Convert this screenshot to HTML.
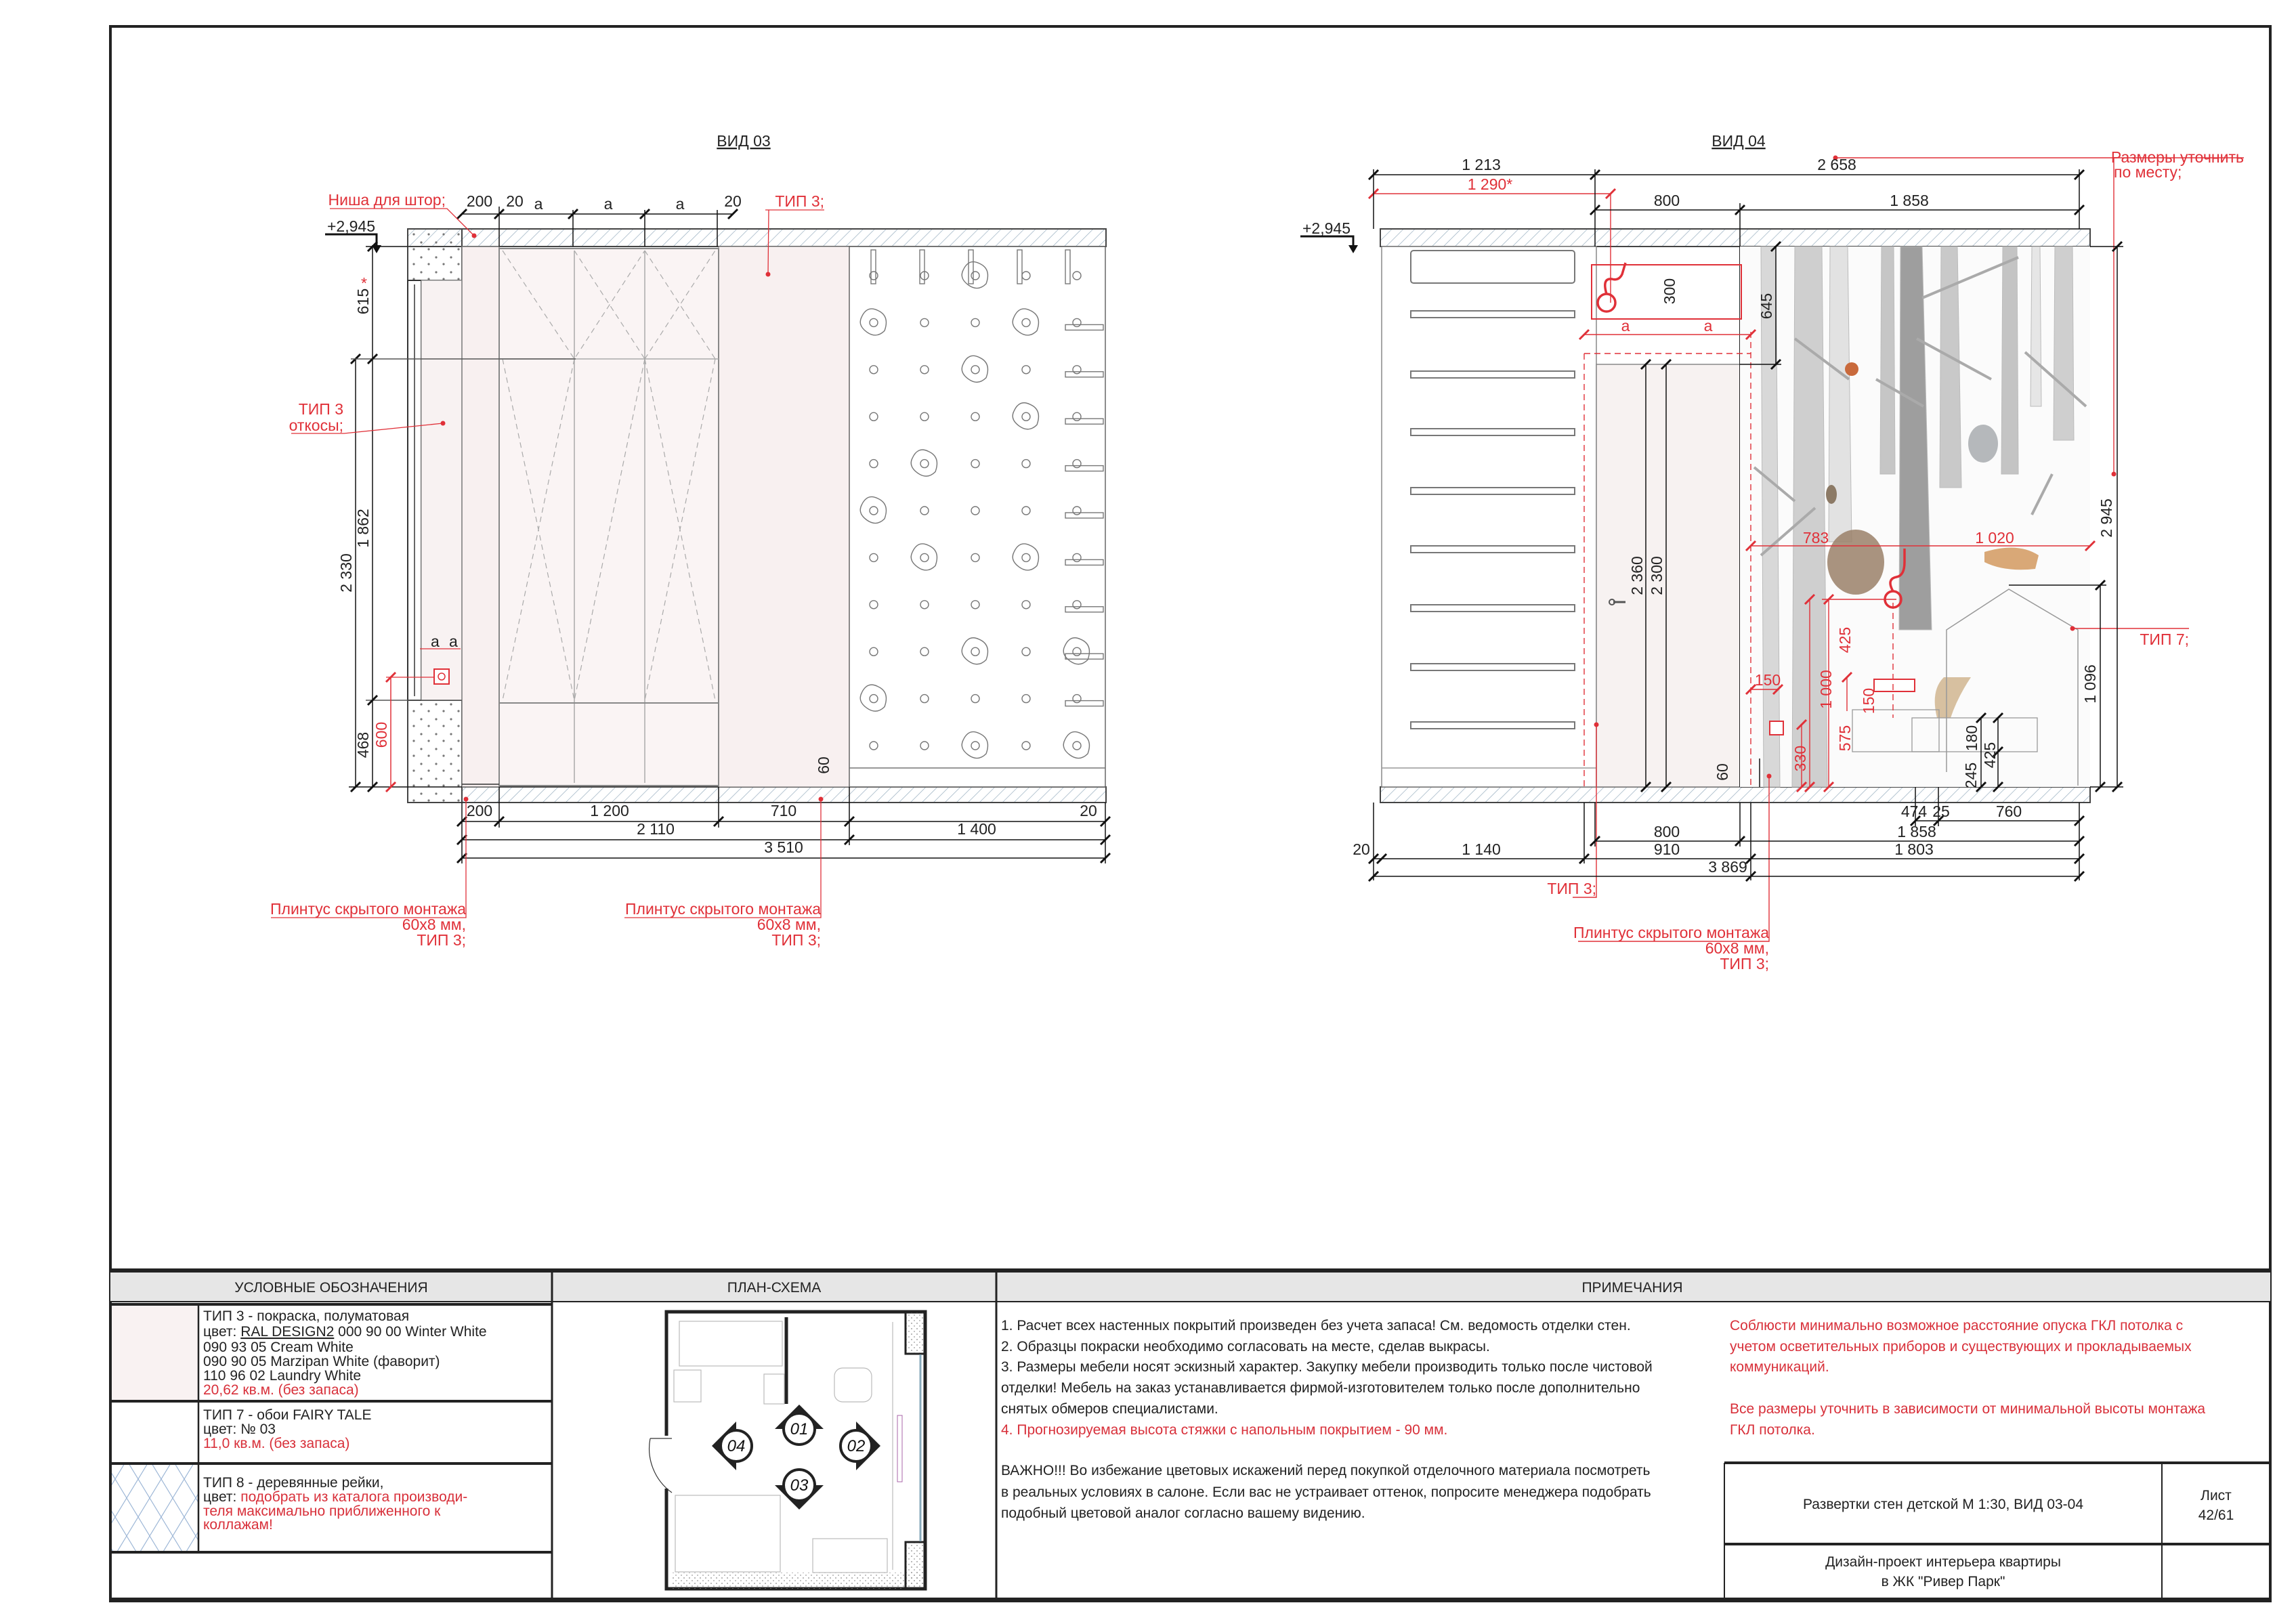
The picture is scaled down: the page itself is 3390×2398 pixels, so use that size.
<!DOCTYPE html>
<html><head><meta charset="utf-8"><style>
html,body{margin:0;padding:0;background:#fff}
svg{display:block}
text{font-family:"Liberation Sans Narrow","Liberation Sans",sans-serif}
.d{font-size:23px;fill:#222}
.r{font-size:23px;fill:#e03038}
.t{font-size:21px;fill:#222}
.tr{font-size:21px;fill:#d8303a}
</style></head><body>
<svg width="3390" height="2398" viewBox="0 0 3390 2398" xmlns="http://www.w3.org/2000/svg">
<defs>
<pattern id="h" width="12" height="12" patternUnits="userSpaceOnUse" patternTransform="rotate(45)"><line x1="0" y1="0" x2="0" y2="12" stroke="#9fb4c4" stroke-width="1.5"/></pattern>
<pattern id="dt" width="22" height="22" patternUnits="userSpaceOnUse"><circle cx="6" cy="6" r="1.6" fill="#777"/><circle cx="17" cy="16" r="1.6" fill="#777"/></pattern>
<pattern id="dt2" width="8" height="8" patternUnits="userSpaceOnUse"><circle cx="2" cy="2" r="0.9" fill="#888"/><circle cx="6" cy="6" r="0.9" fill="#999"/></pattern>
<pattern id="lat" width="34" height="56" patternUnits="userSpaceOnUse"><path d="M0 0 L17 28 L0 56 M34 0 L17 28 L34 56" stroke="#9cb6d6" stroke-width="1.2" fill="none"/></pattern>
<marker id="tk" viewBox="-10 -10 20 20" markerWidth="20" markerHeight="20" markerUnits="userSpaceOnUse" orient="0"><line x1="-7" y1="7" x2="7" y2="-7" stroke="#111" stroke-width="3"/></marker>
<marker id="tkr" viewBox="-10 -10 20 20" markerWidth="20" markerHeight="20" markerUnits="userSpaceOnUse" orient="0"><line x1="-7" y1="7" x2="7" y2="-7" stroke="#e03038" stroke-width="3"/></marker>
</defs>

<!-- frame -->
<rect x="163" y="39" width="3189" height="2325" fill="none" stroke="#222" stroke-width="4"/>

<!-- ================= VIEW 03 ================= -->
<text x="1098" y="216" class="d" text-anchor="middle" text-decoration="underline">ВИД 03</text>
<rect x="602" y="338" width="1031" height="26" fill="url(#h)" stroke="#444" stroke-width="2"/>
<rect x="682" y="1162" width="951" height="23" fill="url(#h)" stroke="#444" stroke-width="2"/>
<rect x="602" y="338" width="80" height="76" fill="url(#dt)" stroke="#444" stroke-width="2"/>
<rect x="602" y="1034" width="80" height="151" fill="url(#dt)" stroke="#444" stroke-width="2"/>
<rect x="602" y="414" width="20" height="620" fill="#fff" stroke="#333" stroke-width="2"/>
<line x1="612" y1="420" x2="612" y2="1028" stroke="#333" stroke-width="1.5"/>
<rect x="622" y="414" width="60" height="620" fill="#f8f2f2" stroke="#999" stroke-width="1"/>
<rect x="682" y="364" width="55" height="798" fill="#f8f0f0" stroke="#777" stroke-width="1.5"/>
<rect x="1061" y="364" width="193" height="798" fill="#f8f0f0" stroke="#777" stroke-width="1"/>
<rect x="737" y="367" width="324" height="793" fill="#faf4f4" stroke="#888" stroke-width="2"/>
<line x1="848" y1="370" x2="848" y2="1156" stroke="#aaa" stroke-width="1.5"/>
<line x1="952" y1="370" x2="952" y2="1156" stroke="#aaa" stroke-width="1.5"/>
<line x1="737" y1="530" x2="1061" y2="530" stroke="#aaa" stroke-width="1.5"/>
<line x1="737" y1="1038" x2="1061" y2="1038" stroke="#888" stroke-width="2"/>
<g stroke="#aaa" stroke-width="1.2" stroke-dasharray="8 6" fill="none">
<path d="M742 370 L848 530 L952 370 M848 370 L952 530 M952 370 L1056 530 M952 530 L1056 370"/>
<path d="M742 530 L848 1034 L952 530 M848 530 L742 1034 M952 530 L848 1034 M952 530 L1056 1034 M1056 530 L952 1034"/>
</g>
<line x1="682" y1="1158" x2="737" y2="1158" stroke="#333" stroke-width="1.5"/>
<rect x="1254" y="364" width="378" height="798" fill="#fff" stroke="#666" stroke-width="1.5"/>
<line x1="1254" y1="1134" x2="1632" y2="1134" stroke="#777" stroke-width="1.5"/>
<g id="holds" fill="none" stroke="#777" stroke-width="1.4"></g>
<g stroke="#111" stroke-width="1.5" fill="none">
<line x1="682" y1="1213" x2="1632" y2="1213" marker-start="url(#tk)" marker-end="url(#tk)"/>
<line x1="682" y1="1240" x2="1632" y2="1240" marker-start="url(#tk)" marker-end="url(#tk)"/>
<line x1="682" y1="1267" x2="1632" y2="1267" marker-start="url(#tk)" marker-end="url(#tk)"/>
<line x1="682" y1="1185" x2="682" y2="1275"/><line x1="1632" y1="1185" x2="1632" y2="1275"/>
<line x1="737" y1="1162" x2="737" y2="1222"/><line x1="1061" y1="1162" x2="1061" y2="1222"/><line x1="1254" y1="1162" x2="1254" y2="1248"/>
<line x1="682" y1="316" x2="1082" y2="316" marker-start="url(#tk)" marker-end="url(#tk)"/>
<line x1="737" y1="305" x2="737" y2="364"/><line x1="846" y1="310" x2="846" y2="364"/><line x1="952" y1="310" x2="952" y2="364"/><line x1="1059" y1="310" x2="1059" y2="364"/>
<line x1="525" y1="530" x2="525" y2="1162" marker-start="url(#tk)" marker-end="url(#tk)"/>
<line x1="550" y1="364" x2="550" y2="1162" marker-start="url(#tk)" marker-end="url(#tk)"/>
<line x1="518" y1="530" x2="850" y2="530" stroke="#555"/><line x1="540" y1="1034" x2="682" y2="1034" stroke="#555"/>
<line x1="515" y1="1162" x2="682" y2="1162"/>
<line x1="540" y1="364" x2="602" y2="364"/>
</g>
<g marker-start="url(#tk)"><line x1="550" y1="530" x2="550" y2="531" stroke="#111"/><line x1="550" y1="1034" x2="550" y2="1035" stroke="#111"/><line x1="737" y1="1213" x2="738" y2="1213" stroke="#111"/><line x1="1061" y1="1213" x2="1062" y2="1213" stroke="#111"/><line x1="1254" y1="1240" x2="1255" y2="1240" stroke="#111"/><line x1="1254" y1="1213" x2="1255" y2="1213" stroke="#111"/><line x1="737" y1="316" x2="738" y2="316" stroke="#111"/><line x1="846" y1="316" x2="847" y2="316" stroke="#111"/><line x1="952" y1="316" x2="953" y2="316" stroke="#111"/></g>
<line x1="577" y1="1000" x2="577" y2="1162" stroke="#e03038" stroke-width="1.5" marker-start="url(#tkr)" marker-end="url(#tkr)"/>
<line x1="570" y1="1000" x2="650" y2="1000" stroke="#e03038" stroke-width="1.2"/>
<line x1="620" y1="958" x2="680" y2="958" stroke="#e03038" stroke-width="1.2"/>
<rect x="641" y="988" width="22" height="22" fill="#fff" stroke="#e03038" stroke-width="2"/><circle cx="652" cy="999" r="5" fill="none" stroke="#e03038" stroke-width="1.5"/>
<text x="708" y="305" class="d" text-anchor="middle">200</text><text x="760" y="305" class="d" text-anchor="middle">20</text>
<text x="795" y="309" class="d" text-anchor="middle">a</text><text x="898" y="309" class="d" text-anchor="middle">a</text><text x="1004" y="309" class="d" text-anchor="middle">a</text><text x="1082" y="305" class="d" text-anchor="middle">20</text>
<text x="636" y="955" class="d" font-size="20">a</text><text x="663" y="955" class="d" font-size="20">a</text>
<text x="708" y="1205" class="d" text-anchor="middle">200</text><text x="900" y="1205" class="d" text-anchor="middle">1 200</text><text x="1157" y="1205" class="d" text-anchor="middle">710</text><text x="1607" y="1205" class="d" text-anchor="middle">20</text>
<text x="968" y="1232" class="d" text-anchor="middle">2 110</text><text x="1442" y="1232" class="d" text-anchor="middle">1 400</text>
<text x="1157" y="1259" class="d" text-anchor="middle">3 510</text>
<text class="d" transform="translate(544,445) rotate(-90)" text-anchor="middle">615</text>
<text x="533" y="426" class="r" font-size="18">*</text>
<text class="d" transform="translate(544,780) rotate(-90)" text-anchor="middle">1 862</text>
<text class="d" transform="translate(519,846) rotate(-90)" text-anchor="middle">2 330</text>
<text class="d" transform="translate(544,1100) rotate(-90)" text-anchor="middle">468</text>
<text class="r" transform="translate(571,1085) rotate(-90)" text-anchor="middle">600</text>
<text class="d" transform="translate(1224,1130) rotate(-90)" text-anchor="middle">60</text>
<text x="483" y="342" class="d">+2,945</text>
<path d="M480 346 L556 346 L556 370" stroke="#111" stroke-width="3" fill="none"/><path d="M549 362 L556 374 L563 362 Z" fill="#111"/>
<g stroke="#e03038" stroke-width="1.3" fill="none">
<path d="M487 308 L660 308 L700 348"/><path d="M1130 310 L1217 310 M1135 310 L1134 405"/>
<path d="M430 640 L508 640 L654 625"/>
<path d="M400 1355 L688 1355 L688 1182"/><path d="M922 1355 L1212 1355 L1212 1182"/>
</g>
<g fill="#e03038"><circle cx="700" cy="348" r="3.5"/><circle cx="1134" cy="405" r="3.5"/><circle cx="654" cy="625" r="3.5"/><circle cx="688" cy="1180" r="3.5"/><circle cx="1212" cy="1180" r="3.5"/></g>
<text x="658" y="303" class="r" text-anchor="end">Ниша для штор;</text>
<text x="1217" y="305" class="r" text-anchor="end">ТИП 3;</text>
<text x="507" y="612" class="r" text-anchor="end">ТИП 3</text><text x="507" y="636" class="r" text-anchor="end">откосы;</text>
<text x="688" y="1350" class="r" text-anchor="end">Плинтус скрытого монтажа</text><text x="688" y="1373" class="r" text-anchor="end">60x8 мм,</text><text x="688" y="1396" class="r" text-anchor="end">ТИП 3;</text>
<text x="1212" y="1350" class="r" text-anchor="end">Плинтус скрытого монтажа</text><text x="1212" y="1373" class="r" text-anchor="end">60x8 мм,</text><text x="1212" y="1396" class="r" text-anchor="end">ТИП 3;</text>

<!-- ================= VIEW 04 ================= -->
<text x="2567" y="216" class="d" text-anchor="middle" text-decoration="underline">ВИД 04</text>
<rect x="2038" y="338" width="1048" height="26" fill="url(#h)" stroke="#444" stroke-width="2"/>
<rect x="2038" y="1162" width="1048" height="23" fill="url(#h)" stroke="#444" stroke-width="2"/>
<rect x="2040" y="364" width="317" height="798" fill="#fff" stroke="#888" stroke-width="1.5"/>
<rect x="2083" y="370" width="242" height="48" rx="4" fill="#fff" stroke="#777" stroke-width="2"/>
<line x1="2040" y1="1134" x2="2357" y2="1134" stroke="#999" stroke-width="1.5"/>
<g id="bars" fill="#fff" stroke="#777" stroke-width="2"></g>
<rect x="2357" y="538" width="212" height="624" fill="#f7f2f1" stroke="#888" stroke-width="1.5"/>
<line x1="2382" y1="889" x2="2400" y2="889" stroke="#555" stroke-width="3"/><circle cx="2380" cy="889" r="4" fill="none" stroke="#555" stroke-width="2"/>
<line x1="2569" y1="364" x2="2569" y2="1162" stroke="#222" stroke-width="2"/>
<rect x="2569" y="364" width="517" height="798" fill="#fbfbfb"/>
<g fill="#d8d8d8" stroke="#bbb" stroke-width="1">
<polygon points="2600,364 2622,364 2628,1162 2604,1162"/>
<polygon points="2650,364 2690,364 2698,1162 2646,1162" fill="#cfcfcf"/>
<polygon points="2702,364 2728,364 2734,800 2700,800" fill="#e2e2e2"/>
<polygon points="2778,364 2796,364 2798,700 2776,700" fill="#c6c6c6"/>
<polygon points="2806,364 2838,364 2852,930 2804,930" fill="#9e9e9e"/>
<polygon points="2866,364 2890,364 2896,720 2864,720" fill="#c9c9c9"/>
<polygon points="2957,364 2978,364 2980,700 2955,700" fill="#c4c4c4"/>
<polygon points="3034,364 3060,364 3062,650 3032,650" fill="#cfcfcf"/>
<polygon points="3000,364 3012,364 3014,600 2998,600" fill="#e6e6e6"/>
</g>
<g stroke="#aaa" stroke-width="4" fill="none">
<path d="M2838 440 L2980 380 M2830 500 L2940 560 M2840 600 L2770 560 M2730 560 L2650 500 M2680 750 L2600 820 M2650 740 L2590 690 M2990 520 L3080 600 M3030 700 L3000 760"/>
</g>
<ellipse cx="2740" cy="830" rx="42" ry="48" fill="#9a8068" opacity="0.85"/>
<path d="M2930 815 Q2980 800 3010 820 L3005 840 Q2960 845 2930 830 Z" fill="#d9a877"/>
<path d="M2870 1000 Q2850 1020 2860 1060 L2880 1060 Q2890 1030 2910 1000 Z" fill="#d7c0a0"/>
<ellipse cx="2928" cy="655" rx="22" ry="28" fill="#b5b8bb"/>
<ellipse cx="2734" cy="545" rx="10" ry="10" fill="#c96a3c"/>
<ellipse cx="2704" cy="730" rx="8" ry="14" fill="#8c7a66"/>
<path d="M2874 1140 L2874 930 L2966 870 L3068 930 L3068 1160" fill="none" stroke="#999" stroke-width="1.5"/>
<rect x="2823" y="1060" width="185" height="50" fill="none" stroke="#999" stroke-width="1.3"/>
<rect x="2735" y="1048" width="128" height="62" fill="none" stroke="#999" stroke-width="1.3"/>
<rect x="2350" y="391" width="221" height="80" fill="none" stroke="#e03038" stroke-width="2"/>
<circle cx="2372" cy="447" r="13" fill="none" stroke="#e03038" stroke-width="3.5"/>
<path d="M2372 434 Q2365 410 2380 412 Q2390 415 2395 405 L2400 388" stroke="#e03038" stroke-width="3.5" fill="none"/>
<circle cx="2795" cy="885" r="12" fill="none" stroke="#e03038" stroke-width="3.5"/>
<path d="M2795 873 Q2785 855 2800 852 Q2812 850 2812 830 L2812 810" stroke="#e03038" stroke-width="3.5" fill="none"/>
<rect x="2767" y="1003" width="60" height="18" fill="#fff" stroke="#e03038" stroke-width="2"/>
<rect x="2613" y="1065" width="20" height="20" fill="#fff" stroke="#e03038" stroke-width="2"/>
<g stroke="#e03038" stroke-width="1.4" fill="none" stroke-dasharray="9 6">
<line x1="2339" y1="522" x2="2585" y2="522"/><line x1="2339" y1="522" x2="2339" y2="1162"/><line x1="2585" y1="490" x2="2585" y2="1162"/><line x1="2795" y1="890" x2="2795" y2="1060"/>
</g>
<g stroke="#e03038" stroke-width="1.4" fill="none">
<line x1="2028" y1="286" x2="2378" y2="286" marker-start="url(#tkr)" marker-end="url(#tkr)"/><line x1="2378" y1="286" x2="2378" y2="447"/>
<line x1="2339" y1="494" x2="2585" y2="494" marker-start="url(#tkr)" marker-end="url(#tkr)"/>
<line x1="2585" y1="806" x2="3086" y2="806" marker-start="url(#tkr)" marker-end="url(#tkr)"/>
<line x1="2690" y1="885" x2="2800" y2="885"/>
<line x1="2672" y1="885" x2="2672" y2="1162" marker-start="url(#tkr)" marker-end="url(#tkr)"/>
<line x1="2700" y1="885" x2="2700" y2="1162" marker-start="url(#tkr)" marker-end="url(#tkr)"/>
<line x1="2585" y1="1018" x2="2625" y2="1018" marker-start="url(#tkr)" marker-end="url(#tkr)"/>
<line x1="2660" y1="1070" x2="2660" y2="1162" marker-start="url(#tkr)" marker-end="url(#tkr)"/>
<line x1="2727" y1="1000" x2="2727" y2="1050" marker-start="url(#tkr)"/>
<path d="M2710 233 L3313 233 M3121 233 L3121 700"/>
<path d="M3060 928 L3163 928 L3232 928"/>
<path d="M2322 1325 L2357 1325 L2357 1070"/>
<path d="M2330 1390 L2612 1390 L2612 1146"/>
</g>
<g fill="#e03038"><circle cx="2710" cy="233" r="3.5"/><circle cx="3121" cy="700" r="3.5"/><circle cx="3060" cy="928" r="3.5"/><circle cx="2357" cy="1070" r="3.5"/><circle cx="2612" cy="1146" r="3.5"/></g>
<text x="2200" y="280" class="r" text-anchor="middle">1 290*</text>
<text x="2400" y="489" class="r" font-size="20" text-anchor="middle">a</text><text x="2522" y="489" class="r" font-size="20" text-anchor="middle">a</text>
<text x="2681" y="802" class="r" text-anchor="middle">783</text><text x="2945" y="802" class="r" text-anchor="middle">1 020</text>
<text x="2610" y="1012" class="r" text-anchor="middle">150</text>
<text class="r" transform="translate(2732,945) rotate(-90)" text-anchor="middle">425</text>
<text class="r" transform="translate(2704,1018) rotate(-90)" text-anchor="middle">1 000</text>
<text class="r" transform="translate(2732,1090) rotate(-90)" text-anchor="middle">575</text>
<text class="r" transform="translate(2767,1035) rotate(-90)" text-anchor="middle">150</text>
<text class="r" transform="translate(2666,1120) rotate(-90)" text-anchor="middle">330</text>
<text x="3313" y="240" class="r" text-anchor="end">Размеры уточнить</text><text x="3121" y="262" class="r">по месту;</text>
<text x="3232" y="952" class="r" text-anchor="end">ТИП 7;</text>
<text x="2357" y="1320" class="r" text-anchor="end">ТИП 3;</text>
<text x="2612" y="1385" class="r" text-anchor="end">Плинтус скрытого монтажа</text><text x="2612" y="1408" class="r" text-anchor="end">60x8 мм,</text><text x="2612" y="1431" class="r" text-anchor="end">ТИП 3;</text>
<g stroke="#111" stroke-width="1.5" fill="none">
<line x1="2028" y1="258" x2="3070" y2="258" marker-start="url(#tk)" marker-end="url(#tk)"/>
<line x1="2355" y1="310" x2="3070" y2="310" marker-start="url(#tk)" marker-end="url(#tk)"/>
<line x1="2028" y1="250" x2="2028" y2="338"/><line x1="2355" y1="250" x2="2355" y2="364"/><line x1="2569" y1="300" x2="2569" y2="364"/><line x1="3070" y1="250" x2="3070" y2="338"/>
<line x1="2622" y1="364" x2="2622" y2="538" marker-start="url(#tk)" marker-end="url(#tk)"/><line x1="2569" y1="538" x2="2630" y2="538"/>
<line x1="2430" y1="538" x2="2430" y2="1162" marker-start="url(#tk)" marker-end="url(#tk)"/>
<line x1="2460" y1="538" x2="2460" y2="1162" marker-start="url(#tk)" marker-end="url(#tk)"/>
<line x1="3126" y1="364" x2="3126" y2="1162" marker-start="url(#tk)" marker-end="url(#tk)"/><line x1="3086" y1="364" x2="3135" y2="364"/><line x1="3086" y1="1162" x2="3135" y2="1162"/>
<line x1="3101" y1="864" x2="3101" y2="1162" marker-start="url(#tk)" marker-end="url(#tk)"/><line x1="2966" y1="864" x2="3110" y2="864"/>
<line x1="2950" y1="1060" x2="2950" y2="1162" marker-start="url(#tk)" marker-end="url(#tk)"/>
<line x1="2925" y1="1060" x2="2925" y2="1162" marker-start="url(#tk)" marker-end="url(#tk)"/>
<line x1="2828" y1="1212" x2="3070" y2="1212" marker-start="url(#tk)" marker-end="url(#tk)"/>
<line x1="2355" y1="1242" x2="3070" y2="1242" marker-start="url(#tk)" marker-end="url(#tk)"/>
<line x1="2028" y1="1268" x2="3070" y2="1268" marker-start="url(#tk)" marker-end="url(#tk)"/>
<line x1="2028" y1="1294" x2="3070" y2="1294" marker-start="url(#tk)" marker-end="url(#tk)"/>
<line x1="2028" y1="1185" x2="2028" y2="1300"/><line x1="3070" y1="1185" x2="3070" y2="1300"/><line x1="2339" y1="1185" x2="2339" y2="1275"/><line x1="2355" y1="1185" x2="2355" y2="1250"/><line x1="2569" y1="1185" x2="2569" y2="1250"/><line x1="2585" y1="1185" x2="2585" y2="1300"/><line x1="2828" y1="1162" x2="2828" y2="1220"/><line x1="2862" y1="1162" x2="2862" y2="1220"/>
<line x1="2598" y1="1162" x2="2598" y2="1120"/>
</g>
<g marker-start="url(#tk)" stroke="#111"><line x1="2355" y1="258" x2="2356" y2="258"/><line x1="2569" y1="310" x2="2570" y2="310"/><line x1="2339" y1="1268" x2="2340" y2="1268"/><line x1="2569" y1="1242" x2="2570" y2="1242"/><line x1="2585" y1="1268" x2="2586" y2="1268"/><line x1="2585" y1="1294" x2="2586" y2="1294"/><line x1="2862" y1="1212" x2="2863" y2="1212"/><line x1="2040" y1="1268" x2="2041" y2="1268"/><line x1="2950" y1="1110" x2="2951" y2="1110"/></g>
<text x="2187" y="251" class="d" text-anchor="middle">1 213</text><text x="2712" y="251" class="d" text-anchor="middle">2 658</text>
<text x="2461" y="304" class="d" text-anchor="middle">800</text><text x="2819" y="304" class="d" text-anchor="middle">1 858</text>
<text x="2826" y="1206" class="d" text-anchor="middle">474</text><text x="2866" y="1206" class="d" text-anchor="middle">25</text><text x="2966" y="1206" class="d" text-anchor="middle">760</text>
<text x="2461" y="1236" class="d" text-anchor="middle">800</text><text x="2830" y="1236" class="d" text-anchor="middle">1 858</text>
<text x="2010" y="1262" class="d" text-anchor="middle">20</text><text x="2187" y="1262" class="d" text-anchor="middle">1 140</text><text x="2461" y="1262" class="d" text-anchor="middle">910</text><text x="2826" y="1262" class="d" text-anchor="middle">1 803</text>
<text x="2551" y="1288" class="d" text-anchor="middle">3 869</text>
<text class="d" transform="translate(2616,452) rotate(-90)" text-anchor="middle">645</text>
<text class="d" transform="translate(2425,850) rotate(-90)" text-anchor="middle">2 360</text>
<text class="d" transform="translate(2454,850) rotate(-90)" text-anchor="middle">2 300</text>
<text class="d" transform="translate(2473,430) rotate(-90)" text-anchor="middle">300</text>
<text class="d" transform="translate(3118,765) rotate(-90)" text-anchor="middle">2 945</text>
<text class="d" transform="translate(3094,1010) rotate(-90)" text-anchor="middle">1 096</text>
<text class="d" transform="translate(2919,1090) rotate(-90)" text-anchor="middle">180</text>
<text class="d" transform="translate(2918,1145) rotate(-90)" text-anchor="middle">245</text>
<text class="d" transform="translate(2946,1115) rotate(-90)" text-anchor="middle">425</text>
<text class="d" transform="translate(2551,1140) rotate(-90)" text-anchor="middle">60</text>
<text x="1923" y="345" class="d">+2,945</text>
<path d="M1920 349 L1998 349 L1998 370" stroke="#111" stroke-width="3" fill="none"/><path d="M1991 362 L1998 374 L2005 362 Z" fill="#111"/>

<!-- ================= BOTTOM TABLE ================= -->
<rect x="163" y="1878" width="3189" height="44" fill="#e6e6e6"/>
<line x1="163" y1="1876" x2="3352" y2="1876" stroke="#222" stroke-width="6"/>
<line x1="163" y1="1922" x2="3352" y2="1922" stroke="#222" stroke-width="2"/>
<line x1="815" y1="1876" x2="815" y2="2364" stroke="#222" stroke-width="3"/>
<line x1="1471" y1="1876" x2="1471" y2="2364" stroke="#222" stroke-width="3"/>
<line x1="163" y1="2362" x2="3352" y2="2362" stroke="#222" stroke-width="6"/>
<text x="489" y="1908" class="t" text-anchor="middle">УСЛОВНЫЕ ОБОЗНАЧЕНИЯ</text>
<text x="1143" y="1908" class="t" text-anchor="middle">ПЛАН-СХЕМА</text>
<text x="2410" y="1908" class="t" text-anchor="middle">ПРИМЕЧАНИЯ</text>
<rect x="165" y="1927" width="127" height="142" fill="#f9f2f2"/>
<rect x="165" y="2163" width="127" height="128" fill="url(#lat)"/>
<g stroke="#222" stroke-width="4"><line x1="163" y1="1926" x2="815" y2="1926"/><line x1="163" y1="2069" x2="815" y2="2069"/><line x1="163" y1="2161" x2="815" y2="2161"/><line x1="163" y1="2292" x2="815" y2="2292"/></g>
<line x1="293" y1="1926" x2="293" y2="2292" stroke="#222" stroke-width="2.5"/>
<text x="300" y="1950" class="t">ТИП 3 - покраска, полуматовая</text>
<text x="300" y="1973" class="t">цвет: <tspan text-decoration="underline">RAL DESIGN2</tspan> 000 90 00 Winter White</text>
<text x="300" y="1996" class="t">090 93 05 Cream White</text>
<text x="300" y="2017" class="t">090 90 05 Marzipan White (фаворит)</text>
<text x="300" y="2038" class="t">110 96 02 Laundry White</text>
<text x="300" y="2059" class="tr">20,62 кв.м. (без запаса)</text>
<text x="300" y="2096" class="t">ТИП 7 - обои FAIRY TALE</text>
<text x="300" y="2117" class="t">цвет: № 03</text>
<text x="300" y="2138" class="tr">11,0 кв.м. (без запаса)</text>
<text x="300" y="2196" class="t">ТИП 8 - деревянные рейки,</text>
<text x="300" y="2217" class="t">цвет: <tspan fill="#d8303a">подобрать из каталога производи-</tspan></text>
<text x="300" y="2238" class="tr">теля максимально приближенного к</text>
<text x="300" y="2258" class="tr">коллажам!</text>
<rect x="984" y="1937" width="382" height="409" fill="none" stroke="#222" stroke-width="5"/>
<rect x="992" y="2322" width="374" height="24" fill="url(#dt2)"/>
<rect x="1337" y="1937" width="29" height="62" fill="url(#dt2)" stroke="#222" stroke-width="3"/>
<rect x="1337" y="2277" width="29" height="69" fill="url(#dt2)" stroke="#222" stroke-width="3"/>
<line x1="1359" y1="2000" x2="1359" y2="2276" stroke="#8ab" stroke-width="3"/>
<rect x="980" y="2120" width="16" height="78" fill="#fff"/>
<path d="M992 2124 L960 2124 M960 2124 A80 80 0 0 0 992 2204" stroke="#333" stroke-width="1.2" fill="none"/>
<line x1="1161" y1="1945" x2="1161" y2="2073" stroke="#222" stroke-width="5"/>
<g fill="none" stroke="#bbb" stroke-width="1.2">
<rect x="1003" y="1951" width="152" height="66"/><rect x="995" y="2023" width="40" height="47"/><rect x="1128" y="2029" width="30" height="44"/>
<rect x="997" y="2208" width="155" height="113"/><rect x="1200" y="2272" width="110" height="50"/>
<line x1="1318" y1="1952" x2="1318" y2="2318"/><rect x="1232" y="2020" width="55" height="50" rx="12"/>
</g>
<rect x="1325" y="2090" width="7" height="98" fill="none" stroke="#a6a" stroke-width="1"/>
<g id="mk"></g>
<text x="1478" y="1964" class="t">1. Расчет всех настенных покрытий произведен без учета запаса! См. ведомость отделки стен.</text>
<text x="1478" y="1995" class="t">2. Образцы покраски необходимо согласовать на месте, сделав выкрасы.</text>
<text x="1478" y="2025" class="t">3. Размеры мебели носят эскизный характер. Закупку мебели производить только после чистовой</text>
<text x="1478" y="2056" class="t">отделки! Мебель на заказ устанавливается фирмой-изготовителем только после дополнительно</text>
<text x="1478" y="2087" class="t">снятых обмеров специалистами.</text>
<text x="1478" y="2118" class="tr">4. Прогнозируемая высота стяжки с напольным покрытием - 90 мм.</text>
<text x="1478" y="2178" class="t">ВАЖНО!!! Во избежание цветовых искажений перед покупкой отделочного материала посмотреть</text>
<text x="1478" y="2210" class="t">в реальных условиях в салоне. Если вас не устраивает оттенок, попросите менеджера подобрать</text>
<text x="1478" y="2241" class="t">подобный цветовой аналог согласно вашему видению.</text>
<text x="2554" y="1964" class="tr">Соблюсти минимально возможное расстояние опуска ГКЛ потолка с</text>
<text x="2554" y="1995" class="tr">учетом осветительных приборов и существующих и прокладываемых</text>
<text x="2554" y="2025" class="tr">коммуникаций.</text>
<text x="2554" y="2087" class="tr">Все размеры уточнить в зависимости от минимальной высоты монтажа</text>
<text x="2554" y="2118" class="tr">ГКЛ потолка.</text>
<line x1="2546" y1="2160" x2="3352" y2="2160" stroke="#222" stroke-width="4"/>
<line x1="2546" y1="2280" x2="3352" y2="2280" stroke="#222" stroke-width="4"/>
<line x1="2546" y1="2160" x2="2546" y2="2364" stroke="#222" stroke-width="2"/>
<line x1="3192" y1="2160" x2="3192" y2="2364" stroke="#222" stroke-width="2"/>
<text x="2869" y="2228" class="t" text-anchor="middle">Развертки стен детской М 1:30, ВИД 03-04</text>
<text x="3272" y="2215" class="t" text-anchor="middle">Лист</text><text x="3272" y="2244" class="t" text-anchor="middle">42/61</text>
<text x="2869" y="2313" class="t" text-anchor="middle">Дизайн-проект интерьера квартиры</text>
<text x="2869" y="2342" class="t" text-anchor="middle">в ЖК "Ривер Парк"</text>
</svg>
<script>
var NS="http://www.w3.org/2000/svg";
function el(p,t,a){var e=document.createElementNS(NS,t);for(var k in a)e.setAttribute(k,a[k]);p.appendChild(e);return e;}
var g=document.getElementById("holds");
var cols=[1290,1365,1440,1515,1590];
var big={"0,2":1,"1,0":1,"1,3":1,"2,2":1,"3,3":1,"4,1":1,"5,0":1,"6,1":1,"6,3":1,"8,2":1,"8,4":1,"9,0":1,"10,2":1,"10,4":1};
for(var r=0;r<11;r++)for(var c=0;c<5;c++){var x=cols[c],y=407+69.4*r;
 el(g,"circle",{cx:x,cy:y,r:6});
 if(big[r+","+c])el(g,"path",{d:"M"+(x-18)+" "+(y-8)+" Q"+(x-10)+" "+(y-26)+" "+(x+6)+" "+(y-18)+" Q"+(x+24)+" "+(y-10)+" "+(x+16)+" "+(y+12)+" Q"+(x+4)+" "+(y+24)+" "+(x-10)+" "+(y+14)+" Q"+(x-24)+" "+(y+4)+" "+(x-18)+" "+(y-8)+"Z"});}
for(var i=0;i<5;i++){var x=[1289,1361,1433,1505,1576][i];el(g,"rect",{x:x-3,y:369,width:7,height:50});}
for(var r=1;r<10;r++){el(g,"rect",{x:1573,y:450+69.4*r-40,width:56,height:8});}
var b=document.getElementById("bars");
[464,553,638,725,811,898,985,1071].forEach(function(y){el(b,"rect",{x:2083,y:y-5,width:242,height:10});});
var m=document.getElementById("mk");
[[1180,2110,"01",0],[1264,2135,"02",1],[1180,2193,"03",2],[1087,2135,"04",3]].forEach(function(d){
 var x=d[0],y=d[1],R=23,s=36;var pts;
 if(d[3]==0)pts=[[x,y-s],[x+s,y],[x-s,y]];
 if(d[3]==1)pts=[[x+s,y],[x,y-s],[x,y+s]];
 if(d[3]==2)pts=[[x,y+s],[x-s,y],[x+s,y]];
 if(d[3]==3)pts=[[x-s,y],[x,y-s],[x,y+s]];
 el(m,"polygon",{points:pts.map(function(p){return p.join(",")}).join(" "),fill:"#222"});
 el(m,"circle",{cx:x,cy:y,r:R,fill:"#fff",stroke:"#222","stroke-width":4});
 var t=el(m,"text",{x:x,y:y+8,"text-anchor":"middle","font-size":"24","font-style":"italic",fill:"#111"});t.textContent=d[2];
});
</script>
</body></html>
